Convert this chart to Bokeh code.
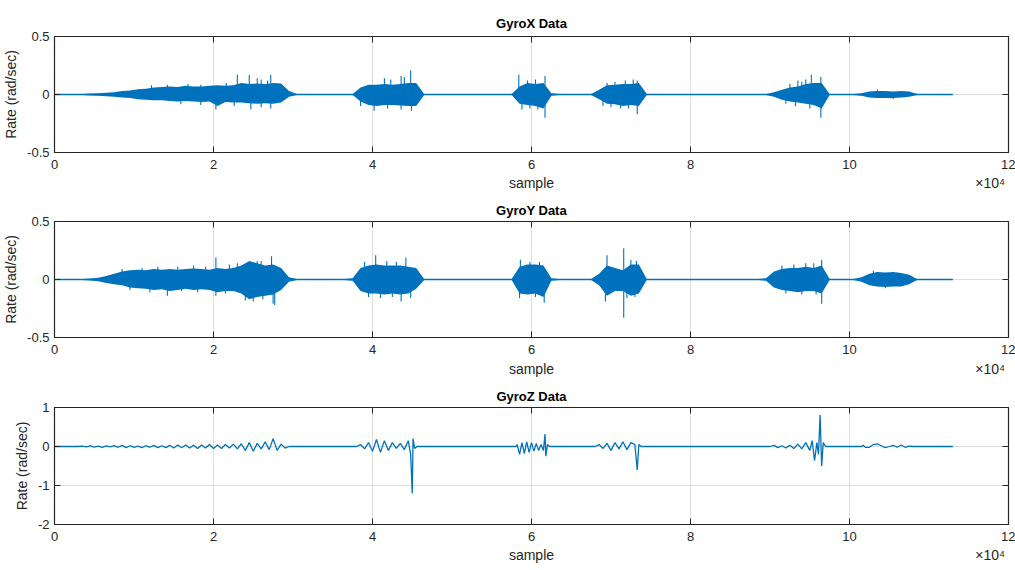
from bokeh.plotting import figure
from bokeh.layouts import column
from bokeh.models import FixedTicker, ColumnDataSource, Range1d, LinearAxis
from bokeh.embed import file_html
from bokeh.resources import INLINE

# ---------------- data ----------------
# envelope per bin of 1000 samples, bins 0..112 (0 .. 113000 samples)
bin_start = list(range(0, 113000, 1000))

gx_hi = [0.005, 0.005, 0.005, 0.005, 0.008, 0.01, 0.015, 0.02, 0.03, 0.035,
         0.045, 0.05, 0.06, 0.065, 0.07, 0.065, 0.075, 0.07, 0.07, 0.075,
         0.08, 0.075, 0.08, 0.1, 0.09, 0.095, 0.09, 0.1, 0.095, 0.03,
         0.005, 0.005, 0.005, 0.005, 0.005, 0.005, 0.005, 0.005, 0.06, 0.085,
         0.085, 0.09, 0.085, 0.09, 0.1, 0.1, 0.005, 0.005, 0.005, 0.005,
         0.005, 0.005, 0.005, 0.005, 0.005, 0.005, 0.005, 0.005, 0.07, 0.1,
         0.09, 0.1, 0.01, 0.005, 0.005, 0.005, 0.005, 0.005, 0.04, 0.08,
         0.085, 0.09, 0.09, 0.1, 0.005, 0.005, 0.005, 0.005, 0.005, 0.005,
         0.005, 0.005, 0.005, 0.005, 0.005, 0.005, 0.005, 0.005, 0.005, 0.005,
         0.02, 0.04, 0.06, 0.07, 0.09, 0.1, 0.1, 0.005, 0.005, 0.005,
         0.005, 0.01, 0.025, 0.03, 0.03, 0.025, 0.03, 0.025, 0.005, 0.005,
         0.005, 0.005, 0.005]
gx_lo = [-0.005, -0.005, -0.005, -0.005, -0.008, -0.01, -0.015, -0.02, -0.025, -0.03,
         -0.04, -0.045, -0.05, -0.05, -0.055, -0.06, -0.055, -0.06, -0.065, -0.06,
         -0.1, -0.065, -0.07, -0.07, -0.075, -0.08, -0.075, -0.08, -0.07, -0.02,
         -0.005, -0.005, -0.005, -0.005, -0.005, -0.005, -0.005, -0.005, -0.06, -0.09,
         -0.1, -0.09, -0.09, -0.095, -0.1, -0.1, -0.005, -0.005, -0.005, -0.005,
         -0.005, -0.005, -0.005, -0.005, -0.005, -0.005, -0.005, -0.005, -0.08, -0.09,
         -0.1, -0.12, -0.01, -0.005, -0.005, -0.005, -0.005, -0.005, -0.04, -0.08,
         -0.085, -0.1, -0.09, -0.1, -0.005, -0.005, -0.005, -0.005, -0.005, -0.005,
         -0.005, -0.005, -0.005, -0.005, -0.005, -0.005, -0.005, -0.005, -0.005, -0.005,
         -0.02, -0.045, -0.06, -0.07, -0.08, -0.09, -0.12, -0.005, -0.005, -0.005,
         -0.005, -0.01, -0.025, -0.03, -0.03, -0.03, -0.025, -0.02, -0.005, -0.005,
         -0.005, -0.005, -0.005]
# individual peaks that stick out of the envelope
gx_spike_x = [20300, 23000, 24500, 25500, 27200, 24700, 27200, 41500, 43600, 44800,
              40200, 44900, 58400, 61700, 61700, 58800, 72800, 73300, 71200, 73300,
              95200, 96400, 96400, 94000,
              12200, 14200, 16800, 18400, 21600, 26000, 26800, 15900, 18400, 22600,
              26000, 42300, 44000, 38500, 41900, 43600, 59500, 60500, 59800, 60800,
              69500, 70500, 71800, 69000, 70000, 72200, 92500, 93500, 94500, 92000,
              93200, 95000, 103500, 105500]
gx_spike_y = [-0.13, 0.17, 0.17, 0.14, 0.17, -0.13, -0.12, 0.14, 0.16, 0.21,
              -0.14, -0.14, 0.17, 0.16, -0.2, -0.13, 0.13, 0.12, -0.12, -0.17,
              0.17, 0.15, -0.2, 0.11,
              0.08, 0.085, 0.09, 0.085, 0.1, 0.13, 0.12, -0.085, -0.09, -0.1,
              -0.11, 0.13, 0.15, -0.1, -0.12, -0.13, 0.12, 0.13, -0.12, -0.13,
              0.1, 0.11, 0.12, -0.1, -0.11, -0.12, 0.09, 0.12, 0.13, -0.08,
              -0.1, -0.12, 0.04, -0.04]

gy_hi = [0.005, 0.005, 0.005, 0.005, 0.008, 0.015, 0.03, 0.05, 0.07, 0.08,
         0.085, 0.08, 0.09, 0.085, 0.09, 0.085, 0.09, 0.095, 0.09, 0.085,
         0.1, 0.09, 0.1, 0.12, 0.16, 0.14, 0.12, 0.13, 0.1, 0.02,
         0.005, 0.005, 0.005, 0.005, 0.005, 0.005, 0.005, 0.01, 0.1, 0.12,
         0.13, 0.12, 0.12, 0.12, 0.11, 0.1, 0.005, 0.005, 0.005, 0.005,
         0.005, 0.005, 0.005, 0.005, 0.005, 0.005, 0.005, 0.005, 0.11, 0.13,
         0.13, 0.12, 0.01, 0.005, 0.005, 0.005, 0.005, 0.005, 0.05, 0.12,
         0.1, 0.08, 0.13, 0.13, 0.005, 0.005, 0.005, 0.005, 0.005, 0.005,
         0.005, 0.005, 0.005, 0.005, 0.005, 0.005, 0.005, 0.005, 0.005, 0.01,
         0.07, 0.09, 0.1, 0.1, 0.11, 0.1, 0.12, 0.005, 0.005, 0.005,
         0.005, 0.02, 0.05, 0.065, 0.06, 0.065, 0.055, 0.04, 0.005, 0.005,
         0.005, 0.005, 0.005]
gy_lo = [-0.005, -0.005, -0.005, -0.005, -0.008, -0.015, -0.03, -0.04, -0.05, -0.07,
         -0.075, -0.08, -0.09, -0.085, -0.1, -0.09, -0.08, -0.09, -0.085, -0.09,
         -0.11, -0.1, -0.1, -0.12, -0.17, -0.15, -0.14, -0.13, -0.09, -0.02,
         -0.005, -0.005, -0.005, -0.005, -0.005, -0.005, -0.005, -0.01, -0.1, -0.12,
         -0.12, -0.13, -0.12, -0.13, -0.12, -0.08, -0.005, -0.005, -0.005, -0.005,
         -0.005, -0.005, -0.005, -0.005, -0.005, -0.005, -0.005, -0.005, -0.12, -0.13,
         -0.12, -0.15, -0.01, -0.005, -0.005, -0.005, -0.005, -0.005, -0.05, -0.14,
         -0.1, -0.1, -0.14, -0.12, -0.005, -0.005, -0.005, -0.005, -0.005, -0.005,
         -0.005, -0.005, -0.005, -0.005, -0.005, -0.005, -0.005, -0.005, -0.005, -0.01,
         -0.07, -0.09, -0.1, -0.11, -0.1, -0.1, -0.12, -0.005, -0.005, -0.005,
         -0.005, -0.02, -0.05, -0.06, -0.065, -0.06, -0.06, -0.04, -0.005, -0.005,
         -0.005, -0.005, -0.005]
gy_spike_x = [20300, 20300, 27300, 27700, 27500, 25500, 14200, 40400, 44200, 43600,
              41000, 58600, 61600, 69500, 71600, 71600, 69300, 96500, 96500, 94500,
              8500, 11000, 13000, 15500, 17500, 19000, 22000, 23000, 26000, 9500,
              12000, 16000, 18000, 21500, 24000, 26200, 25000, 39000, 41800, 43000,
              39500, 42500, 44800, 59800, 61000, 58500, 60500, 72500, 73200, 72000,
              73000, 91500, 93000, 95500, 92000, 94000, 95800, 103000, 104500]
gy_spike_y = [0.19, -0.14, 0.2, -0.22, -0.21, 0.16, -0.14, 0.21, 0.19, -0.19,
              -0.16, 0.17, -0.2, 0.21, 0.27, -0.33, -0.19, 0.17, -0.21, 0.14,
              0.09, 0.1, 0.11, 0.11, 0.12, 0.11, 0.13, 0.14, 0.16, -0.09,
              -0.11, -0.1, -0.11, -0.12, -0.18, -0.17, -0.19, 0.15, 0.16, 0.15,
              -0.15, -0.15, -0.16, 0.15, 0.15, -0.16, -0.15, 0.17, 0.16, -0.16,
              -0.15, 0.12, 0.13, 0.14, -0.12, -0.13, -0.13, 0.075, -0.075]

gz_x = [0, 3000, 3500, 4000, 4500, 5000, 5500, 6000, 6500, 7000, 7500, 8000, 8500, 9000,
        9500, 10000, 10500, 11000, 11500, 12000, 12500, 13000, 13500, 14000, 14500,
        15000, 15500, 16000, 16500, 17000, 17500, 18000, 18500, 19000, 19500, 20000,
        20500, 21000, 21500, 22000, 22500, 23000, 23500, 24000, 24500, 25000, 25500,
        26000, 26500, 27000, 27500, 28000, 28500, 29000, 29500,
        38000, 38500, 39000, 39500, 40000, 40500, 41000, 41500, 42000, 42500, 43000,
        43500, 44000, 44500, 44800, 45000, 45100, 45300, 45600,
        58000, 58200, 58500, 58800, 59100, 59400, 59700, 60000, 60300, 60600, 60900,
        61200, 61500, 61700, 61800, 62000, 62300,
        68000, 68500, 69000, 69500, 70000, 70500, 71000, 71500, 72000, 72500, 73000,
        73300, 73500, 73800,
        90000, 90500, 91000, 91500, 92000, 92500, 93000, 93500, 94000, 94500, 95000,
        95300, 95600, 95900, 96100, 96300, 96500, 96700, 97000,
        101500, 101700, 102000, 102500, 103000, 103500, 104000, 104500, 105000, 105500,
        106000, 106500, 107000, 107500, 108000, 113000]
gz_y = [0, 0, 0.01, -0.01, 0.015, -0.015, 0.01, -0.02, 0.015, -0.01, 0.02, -0.02, 0.03, -0.03,
        0.02, -0.02, 0.01, -0.03, 0.02, -0.02, 0.03, -0.03, 0.02, -0.03, 0.03,
        -0.04, 0.04, -0.03, 0.04, -0.04, 0.03, -0.05, 0.04, -0.04, 0.05, -0.05,
        0.04, -0.05, 0.05, -0.04, 0.06, -0.06, 0.07, -0.1, 0.1, -0.12, 0.08,
        -0.06, 0.12, -0.08, 0.2, -0.1, 0.06, -0.04, 0,
        0, 0.05, -0.06, 0.1, -0.12, 0.18, -0.15, 0.15, -0.1, 0.1, -0.05,
        0.08, -0.08, 0.15, -0.2, -1.2, 0.2, -0.05, 0,
        0, 0.05, -0.2, 0.1, -0.18, 0.12, -0.15, 0.1, -0.12, 0.08, -0.1,
        0.05, -0.1, 0.32, -0.25, 0.05, 0,
        0, 0.05, -0.05, 0.08, -0.1, 0.1, -0.06, 0.12, -0.08, 0.1, 0.05,
        -0.6, 0.05, 0,
        0, 0.03, -0.03, 0.02, -0.04, 0.03, -0.05, 0.06, -0.06, 0.1, -0.1,
        0.15, -0.36, 0.1, -0.2, 0.81, -0.5, 0.1, 0,
        0, 0.03, -0.02, -0.02, 0.05, 0.07, 0.02, -0.03, 0.0, 0.03,
        -0.02, 0.04, -0.02, 0.01, 0, 0]

x_tick_vals = [0, 20000, 40000, 60000, 80000, 100000, 120000]
x_tick_labels = ["0", "2", "4", "6", "8", "10", "12"]
y_tick_vals_xy = [-0.5, 0, 0.5]
y_tick_labels_xy = ["-0.5", "0", "0.5"]
y_tick_vals_z = [-2, -1, 0, 1]
y_tick_labels_z = ["-2", "-1", "0", "1"]
titles = ["GyroX Data", "GyroY Data", "GyroZ Data"]
x_label = "sample"
x_exponent = "\u00d710\u2074"
y_label = "Rate (rad/sec)"

# ---------------- styling ----------------
BLUE = "#0072BD"
AX = "#262626"
GRID = "#dedede"
FONT = "Liberation Sans"


def style_axis(ax):
    ax.major_tick_in = 6
    ax.major_tick_out = 0
    ax.minor_tick_line_color = None
    ax.axis_line_color = AX
    ax.major_tick_line_color = AX
    ax.major_label_text_font = FONT
    ax.major_label_text_font_size = "13px"
    ax.major_label_text_color = AX
    ax.axis_label_text_font = FONT
    ax.axis_label_text_font_size = "14px"
    ax.axis_label_text_font_style = "normal"
    ax.axis_label_text_color = AX


def make_fig(title, yr, yvals, ylabels, fh, top, bottom, tstand, lstand):
    p = figure(frame_width=954, frame_height=fh, output_backend="svg", toolbar_location=None,
               x_range=Range1d(0, 120000), y_range=Range1d(*yr),
               min_border_left=54, min_border_right=7,
               min_border_top=top, min_border_bottom=bottom)
    p.title.text = title
    p.title.align = "center"
    p.title.text_font = FONT
    p.title.text_font_size = "13px"
    p.title.text_font_style = "bold"
    p.title.text_color = "#000000"
    p.title.standoff = tstand
    p.background_fill_color = "white"
    p.border_fill_color = "white"
    p.outline_line_color = AX
    p.outline_line_width = 1.2

    xt = FixedTicker(ticks=x_tick_vals)
    yt = FixedTicker(ticks=yvals)
    p.xaxis.ticker = xt
    p.yaxis.ticker = yt
    p.xaxis.major_label_overrides = dict(zip(x_tick_vals, x_tick_labels))
    p.yaxis.major_label_overrides = dict(zip(yvals, ylabels))
    style_axis(p.xaxis[0])
    style_axis(p.yaxis[0])
    p.xaxis.major_label_standoff = 7
    p.yaxis.major_label_standoff = 5
    p.yaxis.axis_label = y_label
    p.yaxis.axis_label_standoff = 5

    # second row under the x axis: axis title and the x10^4 multiplier
    lab_vals = [60000, 117700]
    lab_ax = LinearAxis(ticker=FixedTicker(ticks=lab_vals),
                        major_label_overrides=dict(zip(lab_vals, [x_label, x_exponent])),
                        major_tick_in=0, major_tick_out=0, minor_tick_line_color=None,
                        axis_line_color=None, major_tick_line_color=None,
                        major_label_standoff=lstand, major_label_text_font=FONT,
                        major_label_text_font_size="14px", major_label_text_color=AX)
    p.add_layout(lab_ax, "below")

    # box ticks on the top and right edges (no labels)
    top_ax = LinearAxis(ticker=xt, major_label_text_font_size="0px",
                        major_label_text_color=None, major_label_standoff=0,
                        major_tick_in=6, major_tick_out=0, minor_tick_line_color=None,
                        axis_line_color=None, major_tick_line_color=AX)
    right_ax = LinearAxis(ticker=yt, major_label_text_font_size="0px",
                          major_label_text_color=None, major_label_standoff=0,
                          major_tick_in=6, major_tick_out=0, minor_tick_line_color=None,
                          axis_line_color=None, major_tick_line_color=AX)
    p.add_layout(top_ax, "above")
    p.add_layout(right_ax, "right")

    p.xgrid.grid_line_color = GRID
    p.ygrid.grid_line_color = GRID
    p.xgrid.ticker = xt
    p.ygrid.ticker = yt
    return p


centers = [b + 500 for b in bin_start]


def add_noise(p, lo, hi, sx, sy):
    src = ColumnDataSource(dict(x=centers, lo=lo, hi=hi))
    p.line([0, 113000], [0, 0], line_color=BLUE, line_width=1.6)
    p.varea(x="x", y1="lo", y2="hi", source=src, fill_color=BLUE)
    p.segment(x0=sx, y0=[0] * len(sx), x1=sx, y1=sy, line_color=BLUE, line_width=1.1)


p1 = make_fig(titles[0], (-0.5, 0.5), y_tick_vals_xy, y_tick_labels_xy, 116, 36, 41, 12, 3)
add_noise(p1, gx_lo, gx_hi, gx_spike_x, gx_spike_y)

p2 = make_fig(titles[1], (-0.5, 0.5), y_tick_vals_xy, y_tick_labels_xy, 116, 28, 44, 8, 4)
add_noise(p2, gy_lo, gy_hi, gy_spike_x, gy_spike_y)

p3 = make_fig(titles[2], (-2, 1), y_tick_vals_z, y_tick_labels_z, 117, 26, 45, 8, 3)
p3.line(gz_x, gz_y, line_color=BLUE, line_width=1.3)

layout = column(p1, p2, p3, spacing=0)
open("out.html", "w").write(file_html(layout, INLINE))
